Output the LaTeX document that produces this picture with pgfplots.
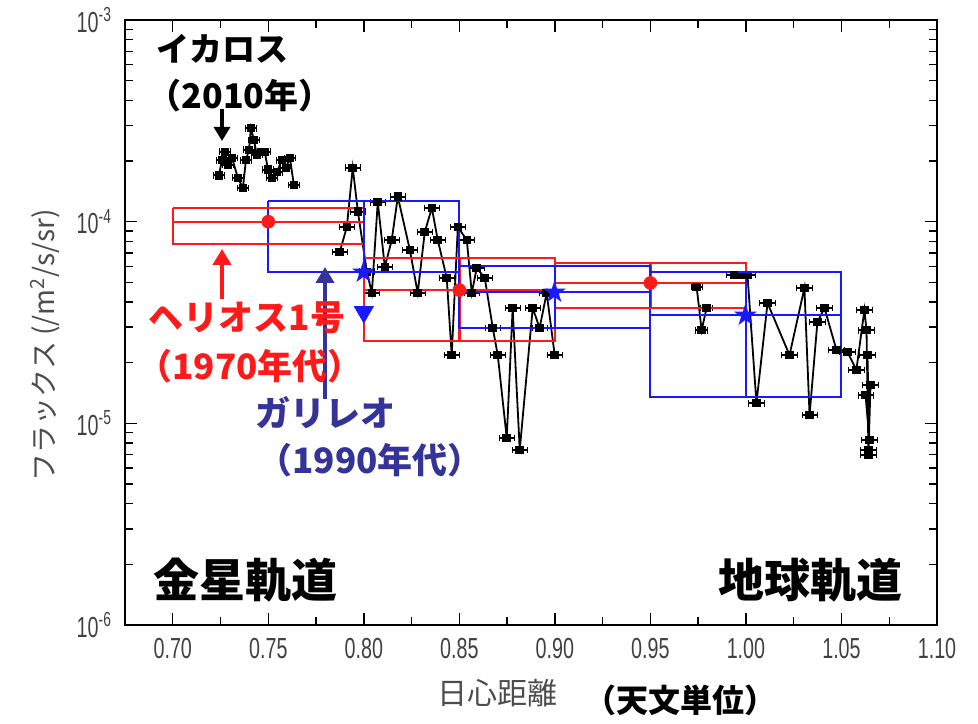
\documentclass[border=0pt]{standalone}
\usepackage{fontspec}
\usepackage{pgfplots}
\pgfplotsset{compat=1.18}
\usetikzlibrary{arrows.meta}
\setmainfont{Liberation Sans}
\newfontfamily\cjk{Noto Sans CJK JP}
\newfontfamily\tickf{Liberation Sans}[FakeStretch=0.68]
\newfontfamily\dejavu{DejaVu Sans}
\definecolor{navy}{RGB}{51,51,153}
\definecolor{myblue}{RGB}{25,25,255}
\definecolor{myred}{RGB}{255,25,25}
\begin{document}
\begin{tikzpicture}
\path[use as bounding box] (0,0) rectangle (489pt,361.5pt);
\begin{axis}[
  at={(62.5pt,49pt)}, anchor=south west, scale only axis,
  width=406pt, height=302.5pt,
  ymode=log, xmin=0.675, xmax=1.10, ymin=1e-6, ymax=1e-3,
  xtick={0.70,0.75,0.80,0.85,0.90,0.95,1.00,1.05,1.10},
  xticklabels={0.70,0.75,0.80,0.85,0.90,0.95,1.00,1.05,1.10},
  minor xtick={0.725,0.775,0.825,0.875,0.925,0.975,1.025,1.075},
  ytick={1e-6,1e-5,1e-4,1e-3},
  yticklabels={10\textsuperscript{-6},10\textsuperscript{-5},10\textsuperscript{-4},10\textsuperscript{-3}},
  tick align=inside,
  major tick length=6pt, minor tick length=4pt,
  axis line style={line width=1pt},
  tick style={line width=0.7pt, black},
  ticklabel style={font=\tickf\fontsize{14.5}{14.5}\selectfont, text=black!75},
  xticklabel style={yshift=-3pt},
  yticklabel style={xshift=-3pt},
]
% IKAROS data
\addplot[black, line width=0.9pt, mark=square*, mark size=1.7pt,
  error bars/.cd, x dir=both, x fixed=0.003, error bar style={line width=0.8pt}]
  table[row sep=\\] {x y\\
0.7242 1.70e-4\\ 0.7257 2.02e-4\\ 0.7273 2.22e-4\\ 0.7289 1.91e-4\\ 0.7310 2.07e-4\\
0.7341 1.65e-4\\ 0.7367 1.47e-4\\ 0.7383 2.02e-4\\ 0.7399 2.27e-4\\ 0.7409 2.91e-4\\
0.7425 2.54e-4\\ 0.7440 2.14e-4\\ 0.7461 2.22e-4\\ 0.7482 2.22e-4\\ 0.7498 1.81e-4\\
0.7519 1.65e-4\\ 0.7545 1.76e-4\\ 0.7571 2.02e-4\\ 0.7592 1.85e-4\\ 0.7613 2.07e-4\\
0.7634 1.52e-4\\};
\addplot[black, line width=0.9pt, mark=square*, mark size=1.7pt,
  error bars/.cd, x dir=both, x fixed=0.004, error bar style={line width=0.8pt}]
  table[row sep=\\] {x y\\
0.7874 7.08e-5\\ 0.7911 9.41e-5\\ 0.7942 1.85e-4\\ 0.7969 1.12e-4\\ 0.8016 5.64e-5\\
0.8042 4.43e-5\\ 0.8073 1.25e-4\\ 0.8110 5.96e-5\\ 0.8146 8.11e-5\\ 0.8178 1.33e-4\\
0.8241 7.24e-5\\ 0.8282 4.43e-5\\ 0.8319 8.89e-5\\ 0.8356 1.17e-4\\ 0.8387 8.11e-5\\
0.8434 5.26e-5\\ 0.8460 2.18e-5\\ 0.8492 9.41e-5\\ 0.8539 8.11e-5\\ 0.8565 4.43e-5\\
0.8591 5.89e-5\\ 0.8633 5.26e-5\\ 0.8675 2.97e-5\\ 0.8701 2.18e-5\\ 0.8748 8.46e-6\\
0.8779 3.73e-5\\ 0.8816 7.38e-6\\ 0.8884 3.73e-5\\ 0.8920 2.97e-5\\ 0.8957 4.43e-5\\
0.8999 2.18e-5\\};
\addplot[black, line width=0.9pt, mark=square*, mark size=1.7pt,
  error bars/.cd, x dir=both, x fixed=0.003, error bar style={line width=0.8pt}]
  table[row sep=\\] {x y\\
0.9742 4.74e-5\\ 0.9768 2.90e-5\\ 0.9794 3.73e-5\\};
\addplot[black, line width=0.9pt, mark=square*, mark size=1.7pt,
  error bars/.cd, x dir=both, x fixed=0.004, error bar style={line width=0.8pt}]
  table[row sep=\\] {x y\\
0.9940 5.45e-5\\ 0.9977 5.45e-5\\ 1.0008 5.45e-5\\ 1.0055 1.26e-5\\ 1.0113 3.95e-5\\
1.0228 2.18e-5\\ 1.0306 4.69e-5\\ 1.0333 1.10e-5\\ 1.0374 3.18e-5\\ 1.0411 3.73e-5\\
1.0474 2.31e-5\\ 1.0531 2.26e-5\\ 1.0578 1.84e-5\\ 1.0620 3.65e-5\\ 1.0631 2.90e-5\\
1.0641 7.38e-6\\ 1.0636 2.18e-5\\ 1.0646 8.27e-6\\ 1.0626 1.38e-5\\ 1.0652 1.55e-5\\
1.0641 6.97e-6\\};
% Helios boxes
\addplot[myred, line width=1pt] coordinates {(0.70,1.17e-4)(0.80,1.17e-4)(0.80,7.75e-5)(0.70,7.75e-5)(0.70,1.17e-4)};
\addplot[myred, line width=1pt] coordinates {(0.70,1e-4)(0.80,1e-4)};
\addplot[myred, line width=1.2pt, mark=-, mark size=4pt] coordinates {(0.75,7.75e-5)(0.75,1.17e-4)};
\addplot[myred, only marks, mark=*, mark size=3.2pt] coordinates {(0.75,1e-4)};
\addplot[myred, line width=1pt] coordinates {(0.80,6.6e-5)(0.90,6.6e-5)(0.90,2.56e-5)(0.80,2.56e-5)(0.80,6.6e-5)};
\addplot[myred, line width=1pt] coordinates {(0.80,4.58e-5)(0.90,4.58e-5)};
\addplot[myred, line width=1.2pt, mark=-, mark size=4pt] coordinates {(0.85,2.56e-5)(0.85,6.6e-5)};
\addplot[myred, only marks, mark=*, mark size=3.2pt] coordinates {(0.85,4.58e-5)};
\addplot[myred, line width=1pt] coordinates {(0.90,6.24e-5)(1.00,6.24e-5)(1.00,3.73e-5)(0.90,3.73e-5)(0.90,6.24e-5)};
\addplot[myred, line width=1pt] coordinates {(0.90,4.97e-5)(1.00,4.97e-5)};
\addplot[myred, line width=1.2pt, mark=-, mark size=4pt] coordinates {(0.95,3.73e-5)(0.95,6.24e-5)};
\addplot[myred, only marks, mark=*, mark size=3.2pt] coordinates {(0.95,4.97e-5)};
% Galileo boxes
\addplot[myblue, line width=1pt] coordinates {(0.75,1.27e-4)(0.85,1.27e-4)(0.85,5.64e-5)(0.75,5.64e-5)(0.75,1.27e-4)};
\addplot[myblue, line width=1.2pt, mark=-, mark size=4pt] coordinates {(0.80,5.64e-5)(0.80,1.27e-4)};
\addplot[myblue, only marks, mark=triangle*, mark size=5.5pt, mark options={rotate=180}] coordinates {(0.80,3.57e-5)};
\addplot[myblue, line width=1pt] coordinates {(0.85,6.03e-5)(0.95,6.03e-5)(0.95,2.97e-5)(0.85,2.97e-5)(0.85,6.03e-5)};
\addplot[myblue, line width=1pt] coordinates {(0.85,4.48e-5)(0.95,4.48e-5)};
\addplot[myblue, line width=1.2pt, mark=-, mark size=4pt] coordinates {(0.90,2.97e-5)(0.90,6.03e-5)};
\addplot[myblue, line width=1pt] coordinates {(0.95,5.64e-5)(1.05,5.64e-5)(1.05,1.35e-5)(0.95,1.35e-5)(0.95,5.64e-5)};
\addplot[myblue, line width=1pt] coordinates {(0.95,3.45e-5)(1.05,3.45e-5)};
\addplot[myblue, line width=1.2pt, mark=-, mark size=4pt] coordinates {(1.00,1.35e-5)(1.00,5.64e-5)};
\addplot[myblue, only marks, mark=text, text mark={\textcolor{myblue}{\dejavu\fontsize{15}{15}\selectfont ★}}] coordinates {(0.80,5.64e-5)(0.90,4.48e-5)(1.00,3.45e-5)};
\end{axis}
% annotations
\draw[black, line width=1.6pt, -{Triangle[length=7pt,width=8pt]}] (111pt,307pt) -- (111pt,291pt);
\draw[myred, line width=2pt, -{Triangle[length=8pt,width=9pt]}] (111pt,212pt) -- (111pt,237pt);
\draw[navy, line width=2pt, -{Triangle[length=8pt,width=9pt]}] (162.5pt,162pt) -- (162.5pt,228pt);
\node[font=\cjk\bfseries\fontsize{16.5}{16.5}\selectfont] at (111pt,337pt) {イカロス};
\node[font=\cjk\bfseries\fontsize{17}{17}\selectfont] at (120pt,313.5pt) {（2010年）};
\node[font=\cjk\bfseries\fontsize{17.5}{17.5}\selectfont, text=myred] at (123.5pt,202.5pt) {ヘリオス1号};
\node[font=\cjk\bfseries\fontsize{17.5}{17.5}\selectfont, text=myred] at (125pt,178.5pt) {（1970年代）};
\node[font=\cjk\bfseries\fontsize{17.5}{17.5}\selectfont, text=navy] at (162.5pt,155pt) {ガリレオ};
\node[font=\cjk\bfseries\fontsize{17.5}{17.5}\selectfont, text=navy] at (185pt,131.5pt) {（1990年代）};
\node[font=\cjk\bfseries\fontsize{23}{23}\selectfont] at (122.5pt,71.5pt) {金星軌道};
\node[font=\cjk\bfseries\fontsize{23}{23}\selectfont] at (405pt,71.5pt) {地球軌道};
\node[font=\cjk\fontsize{15}{15}\selectfont, text=black!70] at (248.5pt,15pt) {日心距離};
\node[font=\cjk\bfseries\fontsize{16}{16}\selectfont] at (340pt,11.5pt) {（天文単位）};
\node[font=\cjk\fontsize{14}{14}\selectfont, text=black!70, rotate=90] at (22.5pt,189pt) {フラックス (/m\textsuperscript{2}/s/sr)};
\end{tikzpicture}
\end{document}
